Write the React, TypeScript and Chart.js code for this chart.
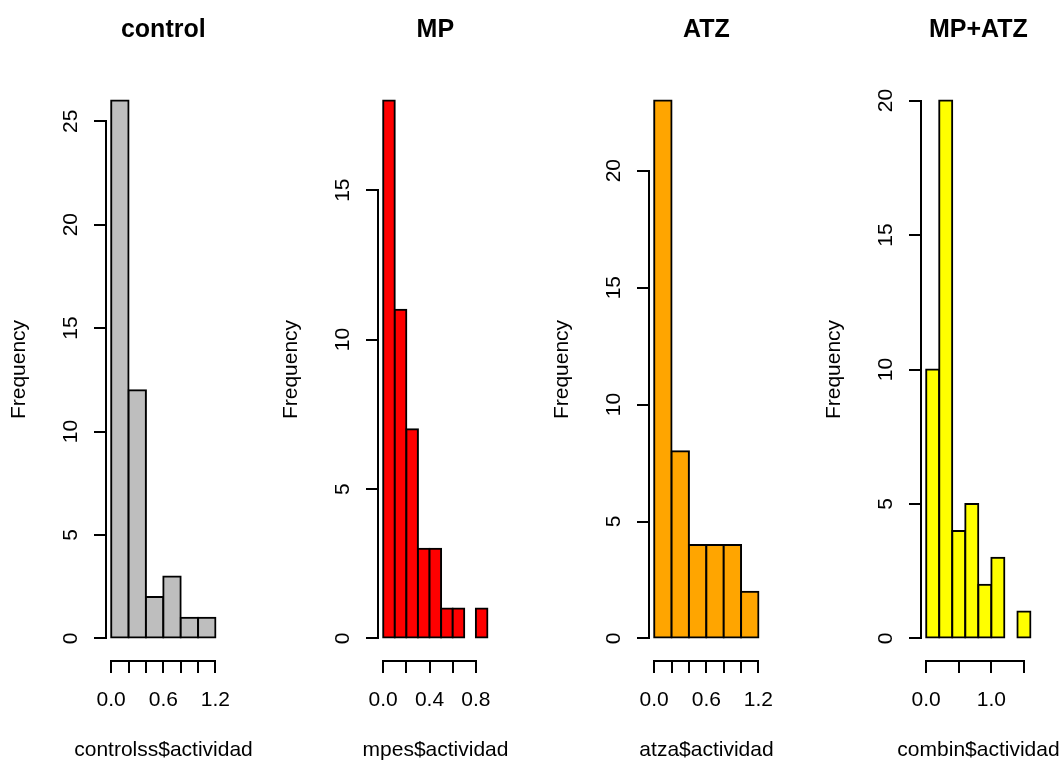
import React, { useEffect, useRef } from 'react';
import { Chart, registerables } from 'chart.js';

Chart.register(...registerables);

const FONT = '"Liberation Sans", Arial, Helvetica, sans-serif';

// ---- data ----
const panelTitles = ['control', 'MP', 'ATZ', 'MP+ATZ'];
const xAxisTitles = ['controlss$actividad', 'mpes$actividad', 'atza$actividad', 'combin$actividad'];
const yAxisTitle = 'Frequency';
const barColors = ['#BEBEBE', '#FF0000', '#FFA500', '#FFFF00'];

const controlBreaks = [0, 0.2, 0.4, 0.6, 0.8, 1.0, 1.2];
const controlCounts = [26, 12, 2, 3, 1, 1];
const controlXTicks = [0, 0.2, 0.4, 0.6, 0.8, 1.0, 1.2];
const controlXLabels = ['0.0', '', '', '0.6', '', '', '1.2'];
const controlYTicks = [0, 5, 10, 15, 20, 25];

const mpBreaks = [0, 0.1, 0.2, 0.3, 0.4, 0.5, 0.6, 0.7, 0.8, 0.9];
const mpCounts = [18, 11, 7, 3, 3, 1, 1, 0, 1];
const mpXTicks = [0, 0.2, 0.4, 0.6, 0.8];
const mpXLabels = ['0.0', '', '0.4', '', '0.8'];
const mpYTicks = [0, 5, 10, 15];

const atzBreaks = [0, 0.2, 0.4, 0.6, 0.8, 1.0, 1.2];
const atzCounts = [23, 8, 4, 4, 4, 2];
const atzXTicks = [0, 0.2, 0.4, 0.6, 0.8, 1.0, 1.2];
const atzXLabels = ['0.0', '', '', '0.6', '', '', '1.2'];
const atzYTicks = [0, 5, 10, 15, 20];

const combBreaks = [0, 0.2, 0.4, 0.6, 0.8, 1.0, 1.2, 1.4, 1.6];
const combCounts = [10, 20, 4, 5, 2, 3, 0, 1];
const combXTicks = [0, 0.5, 1.0, 1.5];
const combXLabels = ['0.0', '', '1.0', ''];
const combYTicks = [0, 5, 10, 15, 20];

// ---- layout ----
const PLOT_LEFT = 107;
const PLOT_W = 112.6;
const CANVAS_W = 327;
const RIGHT_PAD_AXIS = CANVAS_W - PLOT_LEFT - PLOT_W;
const CANVAS_LEFTS = [0, 272, 543, 815];
const CANVAS_H = 760;
const PLOT_TOP = 79;
const PLOT_BOTTOM = 660;
const X_AXIS_H = 55;
const LW = 2;

type PanelSpec = {
  title: string;
  xTitle: string;
  color: string;
  breaks: number[];
  counts: number[];
  xTicks: number[];
  xLabels: string[];
  yTicks: number[];
};

const panels: PanelSpec[] = [
  { title: panelTitles[0], xTitle: xAxisTitles[0], color: barColors[0], breaks: controlBreaks, counts: controlCounts, xTicks: controlXTicks, xLabels: controlXLabels, yTicks: controlYTicks },
  { title: panelTitles[1], xTitle: xAxisTitles[1], color: barColors[1], breaks: mpBreaks, counts: mpCounts, xTicks: mpXTicks, xLabels: mpXLabels, yTicks: mpYTicks },
  { title: panelTitles[2], xTitle: xAxisTitles[2], color: barColors[2], breaks: atzBreaks, counts: atzCounts, xTicks: atzXTicks, xLabels: atzXLabels, yTicks: atzYTicks },
  { title: panelTitles[3], xTitle: xAxisTitles[3], color: barColors[3], breaks: combBreaks, counts: combCounts, xTicks: combXTicks, xLabels: combXLabels, yTicks: combYTicks },
];

const align = (p: number) => Math.round(p - LW / 2) + LW / 2;

const axisLinePlugin = {
  id: 'rAxisLines',
  afterDraw(chart: any) {
    const { ctx, chartArea, scales } = chart;
    const x = scales.x;
    const y = scales.y;
    ctx.save();
    ctx.strokeStyle = '#000';
    ctx.lineWidth = LW;
    ctx.lineCap = 'butt';
    const xt = x.ticks;
    const xa = align(x.getPixelForValue(xt[0].value));
    const xb = align(x.getPixelForValue(xt[xt.length - 1].value));
    const yLine = chartArea.bottom + LW / 2;
    ctx.beginPath();
    ctx.moveTo(xa - LW / 2, yLine);
    ctx.lineTo(xb + LW / 2, yLine);
    ctx.stroke();
    const yt = y.ticks;
    const ya = align(y.getPixelForValue(yt[0].value));
    const yb = align(y.getPixelForValue(yt[yt.length - 1].value));
    const xLine = chartArea.left - LW / 2;
    ctx.beginPath();
    ctx.moveTo(xLine, ya + LW / 2);
    ctx.lineTo(xLine, yb - LW / 2);
    ctx.stroke();
    ctx.restore();
  },
};

function Panel({ spec, left }: { spec: PanelSpec; left: number }) {
  const ref = useRef<HTMLCanvasElement | null>(null);

  useEffect(() => {
    if (!ref.current) return;
    const { breaks, counts, xTicks, xLabels, yTicks } = spec;
    const x0 = breaks[0];
    const x1 = breaks[breaks.length - 1];
    const xr = x1 - x0;
    const ymax = Math.max(...counts);
    const data = counts.map((c, i) => ({ x: (breaks[i] + breaks[i + 1]) / 2, y: c }));

    const chart = new Chart(ref.current, {
      type: 'bar',
      data: {
        datasets: [
          {
            data: data as any,
            backgroundColor: spec.color,
            borderColor: '#000',
            borderWidth: LW,
            borderSkipped: false,
            inflateAmount: LW / 2,
            barPercentage: 1,
            categoryPercentage: 1,
          } as any,
        ],
      },
      options: {
        responsive: false,
        animation: false,
        devicePixelRatio: 1,
        events: [],
        layout: {
          autoPadding: false,
          padding: 0,
        } as any,
        plugins: {
          legend: { display: false },
          tooltip: { enabled: false },
          title: {
            display: true,
            text: spec.title,
            fullSize: false,
            color: '#000',
            font: { family: FONT, size: 25, weight: 'bold', lineHeight: 1.2 },
            padding: { top: 15.5, bottom: PLOT_TOP - 15.5 - 30 },
          },
          subtitle: {
            display: true,
            position: 'bottom',
            fullSize: true,
            text: spec.xTitle,
            color: '#000',
            font: { family: FONT, size: 21, lineHeight: 1 },
            padding: { top: 750.5 - (PLOT_BOTTOM + X_AXIS_H) - 10.5, bottom: CANVAS_H - 750.5 - 10.5 },
          },
        } as any,
        scales: {
          x: {
            type: 'linear',
            position: 'bottom',
            bounds: 'data',
            min: x0 - 0.04 * xr,
            max: x1 + 0.04 * xr,
            offset: false,
            afterBuildTicks: (s: any) => {
              s.ticks = xTicks.map((v) => ({ value: v }));
            },
            afterFit: (s: any) => {
              s.height = X_AXIS_H;
              s.paddingLeft = 0;
              s.paddingRight = 0;
              s.paddingTop = 0;
              s.paddingBottom = 0;
            },
            grid: { offset: false, drawOnChartArea: false, drawTicks: true, tickLength: 13, color: '#000', lineWidth: LW },
            border: { display: false },
            ticks: {
              autoSkip: false,
              minRotation: 0,
              maxRotation: 0,
              padding: 14.4,
              color: '#000',
              font: { family: FONT, size: 21, lineHeight: 1.2 },
              callback: (_v: any, i: number) => xLabels[i],
            },
          } as any,
          y: {
            type: 'linear',
            position: 'left',
            bounds: 'data',
            min: -0.04 * ymax,
            max: 1.04 * ymax,
            afterBuildTicks: (s: any) => {
              s.ticks = yTicks.map((v) => ({ value: v }));
            },
            afterFit: (s: any) => {
              s.width = PLOT_LEFT;
              s.paddingLeft = 0;
              s.paddingRight = 0;
              s.paddingTop = 0;
              s.paddingBottom = 0;
            },
            grid: { offset: false, drawOnChartArea: false, drawTicks: true, tickLength: 13, color: '#000', lineWidth: LW },
            border: { display: false },
            ticks: {
              autoSkip: false,
              minRotation: 90,
              maxRotation: 90,
              crossAlign: 'center',
              padding: 11.4,
              color: '#000',
              font: { family: FONT, size: 21, lineHeight: 1.2 },
              callback: (_v: any, i: number) => String(yTicks[i]),
            },
            title: {
              display: true,
              text: yAxisTitle,
              color: '#000',
              font: { family: FONT, size: 21, lineHeight: 1.2 },
              padding: { top: 6.9, bottom: 0 },
            },
          } as any,
          yR: {
            axis: 'y',
            type: 'linear',
            position: 'right',
            display: true,
            grid: { display: false, drawTicks: false },
            border: { display: false },
            ticks: { display: false },
            afterFit: (s: any) => {
              s.width = RIGHT_PAD_AXIS;
              s.paddingLeft = 0;
              s.paddingRight = 0;
              s.paddingTop = 0;
              s.paddingBottom = 0;
            },
          } as any,
        },
      },
      plugins: [axisLinePlugin],
    });
    return () => chart.destroy();
  }, [spec]);

  return (
    <canvas
      ref={ref}
      width={CANVAS_W}
      height={CANVAS_H}
      style={{ position: 'absolute', left, top: 0, width: CANVAS_W, height: CANVAS_H }}
    />
  );
}

export default function App() {
  return (
    <div
      style={{
        position: 'absolute',
        left: 0,
        top: 0,
        width: 1060,
        height: 760,
        overflow: 'hidden',
        background: '#fff',
      }}
    >
      {panels.map((p, i) => (
        <Panel key={i} spec={p} left={CANVAS_LEFTS[i]} />
      ))}
    </div>
  );
}
